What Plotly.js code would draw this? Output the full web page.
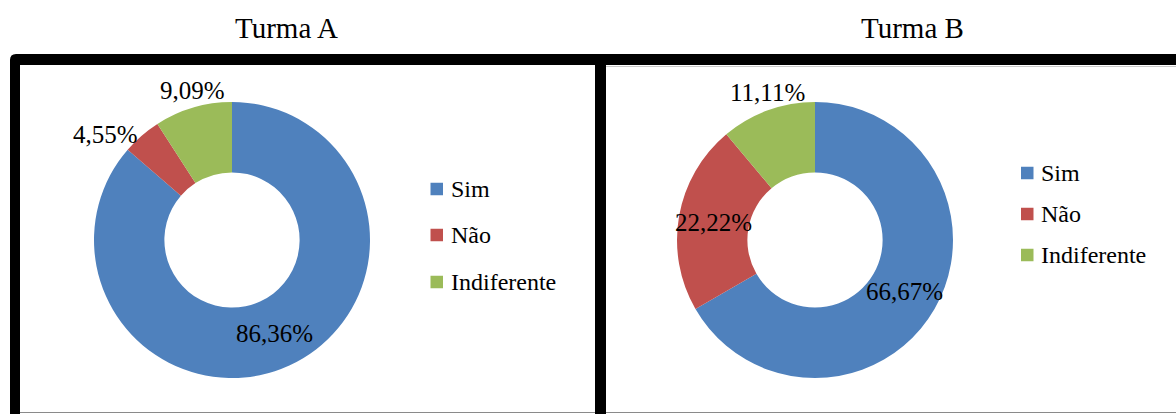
<!DOCTYPE html>
<html>
<head>
<meta charset="utf-8">
<script src="https://cdn.plot.ly/plotly-3.0.1.min.js"></script>
<style>html,body{margin:0;padding:0;background:#fff;}#chart{width:1176px;height:414px;}</style>
</head>
<body>
<div id="chart"></div>
<script>
// ---- data ----
const categories = ["Sim", "Não", "Indiferente"];
const turmaAValues = [86.36, 4.55, 9.09];
const turmaBValues = [66.67, 22.22, 11.11];
const chartTitles = ["Turma A", "Turma B"];
const colors = ["#4F81BD", "#C0504D", "#9BBB59"];

// ---- layout helpers (pixel -> paper, margins are 0) ----
const W = 1176, H = 414;
const toPX = x => x / W;
const toPY = y => 1 - y / H;
const SERIF = "Times New Roman";

const R = 138, HOLE = 0.49;
const pies = [
  {cx: 232, cy: 240, values: turmaAValues, title: chartTitles[0], titleX: 286,
   legX: 430.5, legY: [189, 235, 282]},
  {cx: 815, cy: 240, values: turmaBValues, title: chartTitles[1], titleX: 912,
   legX: 1021, legY: [173, 214, 255]}
];

function draw() {
  const traces = [];
  const annotations = [];
  const shapes = [];

  pies.forEach(p => {
    traces.push({
      type: "pie",
      labels: categories,
      values: p.values,
      hole: HOLE,
      sort: false,
      direction: "clockwise",
      rotation: 0,
      marker: {colors: colors, line: {width: 0}},
      textinfo: "none",
      showlegend: false,
      domain: {x: [toPX(p.cx - R), toPX(p.cx + R)], y: [toPY(p.cy + R), toPY(p.cy - R)]}
    });

    annotations.push({
      xref: "paper", yref: "paper", x: toPX(p.titleX), y: toPY(28),
      xanchor: "center", yanchor: "middle", showarrow: false,
      text: p.title, font: {family: SERIF, size: 29, color: "#000"}
    });

    const total = p.values.reduce((a, b) => a + b, 0);
    let cum = 0;
    p.values.forEach(v => {
      const frac = v / total;
      const mid = (cum + frac / 2) * 2 * Math.PI;
      cum += frac;
      const dx = Math.sin(mid), dy = -Math.cos(mid);
      const txt = v.toFixed(2).replace(".", ",") + "%";
      let x, y, xa = "center", ya = "middle";
      if (frac >= 0.15) {
        const rm = R * (1 + HOLE) / 2;
        x = p.cx + dx * rm; y = p.cy + dy * rm;
      } else {
        x = p.cx + dx * (R + 2); y = p.cy + dy * (R + 2);
        xa = dx < -0.5 ? "right" : (dx > 0.5 ? "left" : "center");
        ya = dy < -0.8 ? "bottom" : (dy > 0.8 ? "top" : "middle");
      }
      annotations.push({
        xref: "paper", yref: "paper", x: toPX(x), y: toPY(y),
        xanchor: xa, yanchor: ya, showarrow: false,
        text: txt, font: {family: SERIF, size: 25, color: "#000"}
      });
    });

    categories.forEach((c, i) => {
      const yc = p.legY[i];
      shapes.push({
        type: "rect", xref: "paper", yref: "paper",
        x0: toPX(p.legX), x1: toPX(p.legX + 12.5), y0: toPY(yc + 6.25), y1: toPY(yc - 6.25),
        fillcolor: colors[i], line: {width: 0}
      });
      annotations.push({
        xref: "paper", yref: "paper", x: toPX(p.legX + 18), y: toPY(yc),
        xanchor: "left", yanchor: "middle", showarrow: false,
        text: c, font: {family: SERIF, size: 24, color: "#000"}
      });
    });
  });

  const rr = 6;
  shapes.push({
    type: "path", xref: "paper", yref: "paper",
    path: `M ${toPX(10)} ${toPY(414)} L ${toPX(10)} ${toPY(54 + rr)} Q ${toPX(10)} ${toPY(54)} ${toPX(10 + rr)} ${toPY(54)} L ${toPX(1180)} ${toPY(54)} L ${toPX(1180)} ${toPY(65)} L ${toPX(20)} ${toPY(65)} L ${toPX(20)} ${toPY(414)} Z`,
    fillcolor: "#000", line: {width: 0}
  });
  shapes.push({
    type: "rect", xref: "paper", yref: "paper",
    x0: toPX(595), x1: toPX(606), y0: toPY(414), y1: toPY(60),
    fillcolor: "#000", line: {width: 0}
  });
  shapes.push({type: "line", xref: "paper", yref: "paper", x0: toPX(20), x1: toPX(595), y0: toPY(412.5), y1: toPY(412.5), line: {color: "#8a8a8a", width: 1}});
  shapes.push({type: "line", xref: "paper", yref: "paper", x0: toPX(606), x1: toPX(1176), y0: toPY(412.5), y1: toPY(412.5), line: {color: "#8a8a8a", width: 1}});
  shapes.push({type: "line", xref: "paper", yref: "paper", x0: toPX(606), x1: toPX(1176), y0: toPY(66.5), y1: toPY(66.5), line: {color: "#c8c8c8", width: 1}});

  const layout = {
    width: W, height: H,
    margin: {l: 0, r: 0, t: 0, b: 0},
    showlegend: false,
    annotations: annotations,
    shapes: shapes
  };

  Plotly.newPlot("chart", traces, layout, {staticPlot: true});
}

draw();
if (document.fonts && document.fonts.load) {
  document.fonts.load('24px "Times New Roman"').then(draw).catch(() => {});
}
</script>
</body>
</html>
